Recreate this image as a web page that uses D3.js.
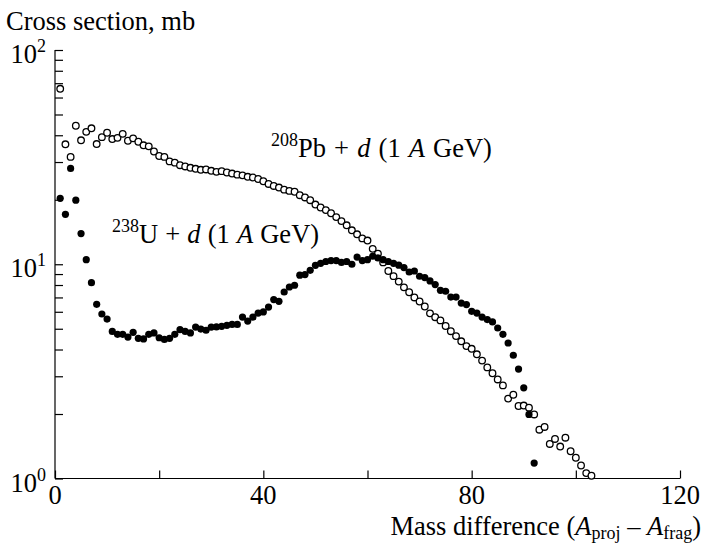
<!DOCTYPE html>
<html>
<head>
<meta charset="utf-8">
<script src="https://cdn.jsdelivr.net/npm/d3@7"></script>
<style>
  html, body { margin: 0; padding: 0; background: #fff; }
  svg { display: block; font-family: "Liberation Serif", "Times New Roman", serif; }
</style>
</head>
<body>
<svg id="chart" width="702" height="545"></svg>
<script>
// Mass difference (A_proj - A_frag) of each measured fragment
const pbMass = [1,2,3,4,5,6,7,8,9,10,11,12,13,14,15,16,17,18,19,20,21,22,23,24,25,26,27,28,29,30,
  31,32,33,34,35,36,37,38,39,40,41,42,43,44,45,46,47,48,49,50,51,52,53,54,55,56,57,58,59,60,
  61,62,63,64,65,66,67,68,69,70,71,72,73,74,75,76,77,78,79,80,81,82,83,84,85,86,87,88,89,90,
  91,92,93,94,95,96,97,98,99,100,101,102,103];
// 208Pb + d cross sections, mb
const pbSigma = [65.9,36.3,31.7,44.3,37.9,41.5,43.1,36.4,39.2,41.1,38.4,38.9,40.6,37.7,38.7,37.3,35.9,35.5,33.6,32.0,
  31.7,30.2,29.8,29.0,28.6,28.2,27.9,27.6,27.7,27.3,27.0,27.2,26.8,26.5,26.2,26.0,25.6,25.4,25.0,24.4,
  23.7,23.2,22.8,22.3,22.0,21.8,21.0,20.5,19.9,19.0,18.4,17.9,17.3,16.6,15.9,15.2,14.4,13.8,13.2,12.9,
  11.8,11.2,10.2,9.3,8.8,8.3,7.8,7.4,7.0,6.7,6.35,5.9,5.66,5.47,5.15,4.87,4.62,4.37,4.15,4.03,
  3.8,3.55,3.3,3.1,2.9,2.72,2.36,2.46,2.18,2.19,2.14,1.99,1.69,1.74,1.45,1.53,1.41,1.55,1.34,1.25,
  1.15,1.06,1.03];

const uMass = [1,2,3,4,5,6,7,8,9,10,11,12,13,14,15,16,17,18,19,20,21,22,23,24,25,26,27,28,29,30,
  31,32,33,34,35,36,37,38,39,40,41,42,43,44,45,46,47,48,49,50,51,52,53,54,55,56,57,58,59,60,
  61,62,63,64,65,66,67,68,69,70,71,72,73,74,75,76,77,78,79,80,81,82,83,84,85,86,87,88,89,90,
  91,92];
// 238U + d cross sections, mb
const uSigma = [20.3,17.1,28.0,19.9,13.9,10.5,8.2,6.5,5.86,5.55,4.86,4.71,4.71,4.57,4.81,4.51,4.48,4.71,4.78,4.54,
  4.46,4.51,4.71,4.95,4.86,4.78,5.09,4.98,4.92,5.09,5.10,5.13,5.19,5.24,5.24,5.67,5.43,5.67,5.92,5.99,
  6.31,6.84,6.71,7.42,7.83,7.98,8.89,8.95,9.37,9.89,10.1,10.3,10.4,10.4,10.2,10.3,10.0,10.8,10.4,10.5,
  10.9,10.7,10.5,10.3,10.1,9.9,9.65,9.2,9.3,8.79,8.67,8.36,8.04,7.56,7.48,7.03,7.03,6.59,6.48,6.03,
  5.92,5.67,5.52,5.38,5.04,4.71,4.29,3.76,3.24,2.65,1.99,1.18];

const xTickValues = [0, 20, 40, 60, 80, 100, 120];
const xTickLabels = ["0", "", "40", "", "80", "", "120"];
const yMajor = [1, 10, 100];
const yMajorExp = ["0", "1", "2"];

const svg = d3.select("#chart");
const x = d3.scaleLinear().domain([0, 120]).range([55, 680]);
const y = d3.scaleLog().domain([1, 100]).range([478.5, 50]);

const FS = 26.5; // main text size
const FSS = 18;  // super/subscript size

// left axis: inward ticks at every 1..9 × 10^n
const yTicks = [];
for (let d = 1; d <= 10; d *= 10) for (let k = 1; k <= 9; k++) yTicks.push(d * k);
yTicks.push(100);
const yAxis = d3.axisRight(y).tickValues(yTicks).tickSize(8).tickFormat("");
const gy = svg.append("g").attr("transform", `translate(${x(0)},0)`).call(yAxis);
gy.select(".domain").attr("d", `M0,${y(100)}V${y(1)}`);

// bottom axis: inward ticks
const xAxis = d3.axisTop(x).tickValues(xTickValues).tickSize(8).tickFormat("");
const gx = svg.append("g").attr("transform", `translate(0,${y(1)})`).call(xAxis);
gx.select(".domain").attr("d", `M${x(0)},0H${x(120)}`);

svg.selectAll(".domain, .tick line").attr("stroke", "#000").attr("stroke-width", 1.2);

// y labels 10^n
yMajor.forEach((v, i) => {
  const t = svg.append("text")
    .attr("x", 46).attr("y", y(v) + 13)
    .attr("text-anchor", "end").attr("font-size", FS);
  t.append("tspan").text("10");
  t.append("tspan").attr("font-size", FSS).attr("dy", -11).text(yMajorExp[i]);
});

// x labels
xTickValues.forEach((v, i) => {
  if (!xTickLabels[i]) return;
  svg.append("text").attr("x", x(v)).attr("y", y(1) + 25)
    .attr("text-anchor", "middle").attr("font-size", FS).text(xTickLabels[i]);
});

// axis titles
svg.append("text").attr("x", 6).attr("y", 30).attr("font-size", FS).text("Cross section, mb");

const xt = svg.append("text").attr("x", 701).attr("y", 535)
  .attr("text-anchor", "end").attr("font-size", FS);
xt.append("tspan").text("Mass difference (");
xt.append("tspan").attr("font-style", "italic").text("A");
xt.append("tspan").attr("font-size", FSS).attr("dy", 4).text("proj");
xt.append("tspan").attr("dy", -4).text(" \u2013 ");
xt.append("tspan").attr("font-style", "italic").text("A");
xt.append("tspan").attr("font-size", FSS).attr("dy", 4).text("frag");
xt.append("tspan").attr("dy", -4).text(")");

// reaction labels
function reactionLabel(px, py, iso, sym, gap) {
  const t = svg.append("text").attr("x", px).attr("y", py)
    .attr("font-size", FS).attr("word-spacing", gap);
  t.append("tspan").attr("font-size", FSS).attr("dy", -11).text(iso);
  t.append("tspan").attr("dy", 11).text(sym + " + ");
  t.append("tspan").attr("font-style", "italic").text("d");
  t.append("tspan").text(" (1 ");
  t.append("tspan").attr("font-style", "italic").text("A");
  t.append("tspan").text(" GeV)");
}
reactionLabel(271, 157, "208", "Pb", 1.5);
reactionLabel(112, 243, "238", "U", 0.5);

// data points
svg.append("g").selectAll("circle").data(pbMass.map((m, i) => [m, pbSigma[i]]))
  .join("circle")
  .attr("cx", d => x(d[0])).attr("cy", d => y(d[1])).attr("r", 3.3)
  .attr("fill", "#fff").attr("stroke", "#000").attr("stroke-width", 1.3);

svg.append("g").selectAll("circle").data(uMass.map((m, i) => [m, uSigma[i]]))
  .join("circle")
  .attr("cx", d => x(d[0])).attr("cy", d => y(d[1])).attr("r", 3.6)
  .attr("fill", "#000");
</script>
</body>
</html>
